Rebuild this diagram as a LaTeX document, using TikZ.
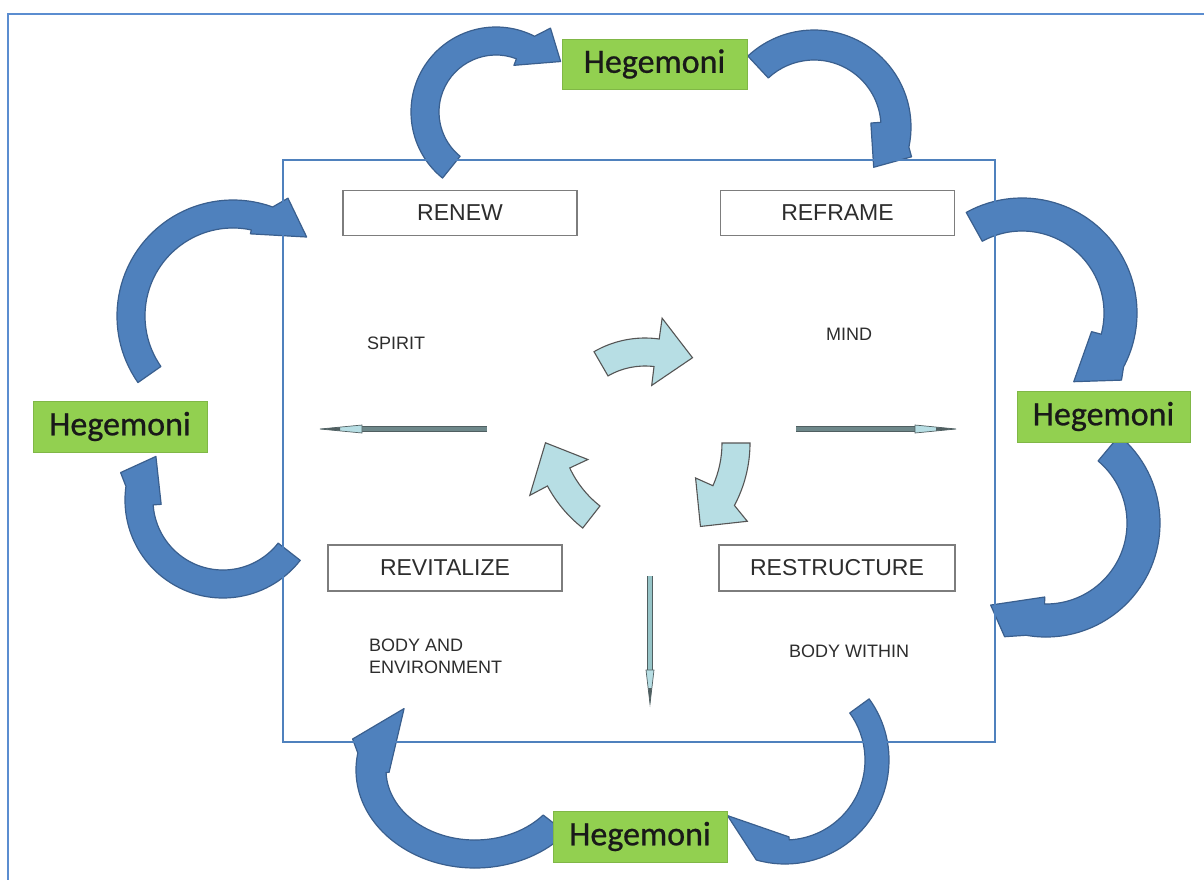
\documentclass[tikz,border=0pt]{standalone}
\usepackage{fontspec}
\setmainfont{Liberation Sans}
\newfontfamily\hegfont[FakeBold=0.7]{Carlito}
\definecolor{bigfill}{RGB}{79,129,189}
\definecolor{bigedge}{RGB}{58,95,142}
\definecolor{framec}{RGB}{79,129,189}
\definecolor{outerc}{RGB}{91,141,208}
\definecolor{hgreen}{RGB}{146,208,80}
\definecolor{cyanf}{RGB}{183,222,228}
\definecolor{cyane}{RGB}{85,85,85}
\definecolor{txt}{RGB}{45,45,45}
\definecolor{boxedge}{RGB}{125,125,125}
\definecolor{shaftc}{RGB}{110,136,138}
\definecolor{shaftedge}{RGB}{80,95,97}
\definecolor{vshaft}{RGB}{150,196,199}
\begin{document}
\begin{tikzpicture}[x=1pt,y=-1pt,
  bigarr/.style={fill=bigfill,draw=bigedge,line width=1.2pt,line join=round},
  smallarr/.style={fill=cyanf,draw=cyane,line width=1.1pt,line join=miter},
  hege/.style={fill=hgreen,draw=hgreen!88!black,line width=0.6pt,inner sep=0pt,
    font=\hegfont\fontsize{34}{40}\selectfont,text=black!90},
  labbox/.style={fill=white,draw=boxedge,line width=1.8pt,inner sep=0pt,
    minimum width=234pt,minimum height=45pt,font=\fontsize{23}{27}\selectfont,text=txt},
  smalltxt/.style={anchor=west,inner sep=0pt,font=\fontsize{18}{22}\selectfont,text=txt,align=left},
  hshaft/.style={draw=shaftedge,line width=0.8pt,double=shaftc,double distance=4.2pt},
  vshaftst/.style={draw=shaftedge,line width=0.8pt,double=vshaft,double distance=4.2pt},
  needle/.style={fill=cyanf,draw=shaftedge,line width=0.7pt},
  needletip/.style={fill=shaftedge}
]
\useasboundingbox (0,0) rectangle (1204,879);
\fill[white] (0,0) rectangle (1204,879);
% outer frame
\draw[outerc,line width=2pt] (8,900) -- (8,14) -- (1210,14);

% ---------- big blue curved arrows ----------
% A1 top-left
\begin{scope}[shift={(496,112)}]
\filldraw[bigarr] (129:85) arc[start angle=129,end angle=297,radius=85] -- (303:100) -- (322:82) -- (291:50) -- (291:57) arc[start angle=291,end angle=129,radius=57] -- cycle;
\end{scope}
% A2 top-right
\begin{scope}[shift={(814,127)}]
\filldraw[bigarr] (227:97) arc[start angle=227,end angle=372,radius=97] -- (377:102) -- (394:72) -- (356:57) -- (356:67) arc[start angle=356,end angle=227,radius=67] -- cycle;
\end{scope}
% A3 right-upper
\begin{scope}[shift={(1022,313)}]
\filldraw[bigarr] (241:115) arc[start angle=241,end angle=388,radius=115] -- (394:120) -- (413:86) -- (375:72) -- (375:82) arc[start angle=375,end angle=241,radius=82] -- cycle;
\end{scope}
% A4 right-lower
\begin{scope}[shift={(1046,523)}]
\filldraw[bigarr] (-50:114) arc[start angle=-50,end angle=100,radius=114] -- (110:121) -- (124:99) -- (91:74) -- (91:81) arc[start angle=91,end angle=-50,radius=81] -- cycle;
\end{scope}
% A5 bottom-right
\begin{scope}[shift={(785,760)}]
\filldraw[bigarr] (-36:104) arc[start angle=-36,end angle=106,radius=104] -- (136:80) -- (87:77) -- (87:80) arc[start angle=87,end angle=-36,radius=80] -- cycle;
\end{scope}
% A6 bottom-left
\begin{scope}[shift={(475,770)}]
\filldraw[bigarr] (40:119 and 98) arc[start angle=40,end angle=190,x radius=119,y radius=98] -- (197:128 and 106) -- (227:104 and 84) -- (178:86 and 67) -- (178:89 and 70) arc[start angle=178,end angle=40,x radius=89,y radius=70] -- cycle;
\end{scope}
% A7 left-lower
\begin{scope}[shift={(223,500)}]
\filldraw[bigarr] (38:98) arc[start angle=38,end angle=188,radius=98] -- (195:106) -- (213:80) -- (176:62) -- (176:70) arc[start angle=176,end angle=38,radius=70] -- cycle;
\end{scope}
% A8 left-upper
\begin{scope}[shift={(233,316)}]
\filldraw[bigarr] (145:116) arc[start angle=145,end angle=290,radius=116] -- (295:130) -- (313:108) -- (282:84) -- (282:88) arc[start angle=282,end angle=145,radius=88] -- cycle;
\end{scope}

% inner frame
\draw[framec,line width=2.2pt] (283,160) rectangle (995,742);

% ---------- small cyan cycle arrows ----------
\begin{scope}[shift={(645,440)}]
\filldraw[smallarr] (240:102) arc[start angle=240,end angle=278,radius=102] -- (278:123) -- (300:95) -- (277:55) -- (277:74) arc[start angle=277,end angle=240,radius=74] -- cycle;
\end{scope}
\begin{scope}[shift={(617,443)}]
\filldraw[smallarr] (0:133) arc[start angle=0,end angle=28,radius=133] -- (31:152) -- (45:118) -- (24:86) -- (24:105) arc[start angle=24,end angle=0,radius=105] -- cycle;
\end{scope}
\begin{scope}[shift={(664,424)}]
\filldraw[smallarr] (128:132) arc[start angle=128,end angle=152,radius=132] -- (152:152) -- (171:120) -- (155:84) -- (155:104) arc[start angle=155,end angle=128,radius=104] -- cycle;
\end{scope}

% ---------- needle arrows ----------
\coordinate (la) at (487,429);
\coordinate (lb) at (362,429);
\coordinate (lc) at (320,429);
\coordinate (ra) at (796,429);
\coordinate (rb) at (915,429);
\coordinate (rc) at (956,429);
\coordinate (va) at (650,576);
\coordinate (vb) at (650,670);
\coordinate (vc) at (650,704);
\draw[hshaft] (la) -- (lb);
\draw[hshaft] (ra) -- (rb);
\draw[vshaftst] (va) -- (vb);
\filldraw[needle] ([yshift=-4pt]lb) -- (lc) -- ([yshift=4pt]lb) -- cycle;
\filldraw[needle] ([yshift=-4pt]rb) -- (rc) -- ([yshift=4pt]rb) -- cycle;
\filldraw[needle] ([xshift=-4pt]vb) -- (vc) -- ([xshift=4pt]vb) -- cycle;
\fill[needletip] ([xshift=20pt,yshift=-1.8pt]lc) -- (lc) -- ([xshift=20pt,yshift=1.8pt]lc) -- cycle;
\fill[needletip] ([xshift=-20pt,yshift=-1.8pt]rc) -- (rc) -- ([xshift=-20pt,yshift=1.8pt]rc) -- cycle;
\fill[needletip] ([yshift=16pt,xshift=-1.8pt]vc) -- (vc) -- ([yshift=16pt,xshift=1.8pt]vc) -- cycle;

% ---------- Hegemoni boxes ----------
\node[hege,minimum width=185pt,minimum height=50pt] (htop) at (654.5,64) {Hegemoni};
\node[hege,minimum width=173pt,minimum height=51pt] (hright) at (1103.5,416.5) {Hegemoni};
\node[hege,minimum width=174pt,minimum height=51pt] (hleft) at (120,426.5) {Hegemoni};
\node[hege,minimum width=174pt,minimum height=51pt] (hbot) at (640,836.5) {Hegemoni};

% ---------- label boxes ----------
\node[labbox] (renew) at (460,213) {RENEW};
\node[labbox] (reframe) at (837.5,213) {REFRAME};
\node[labbox,minimum height=46pt] (revital) at (445,568) {REVITALIZE};
\node[labbox,minimum width=236pt,minimum height=46pt] (restruct) at (837,568) {RESTRUCTURE};

% ---------- small texts ----------
\node[smalltxt] (spirit) at (367,343) {SPIRIT};
\node[smalltxt] (mind) at (826,334) {MIND};
\node[smalltxt] (bodyenv) at (369,656) {BODY AND\\ENVIRONMENT};
\node[smalltxt] (bodywithin) at (789,651) {BODY WITHIN};
\end{tikzpicture}
\end{document}
